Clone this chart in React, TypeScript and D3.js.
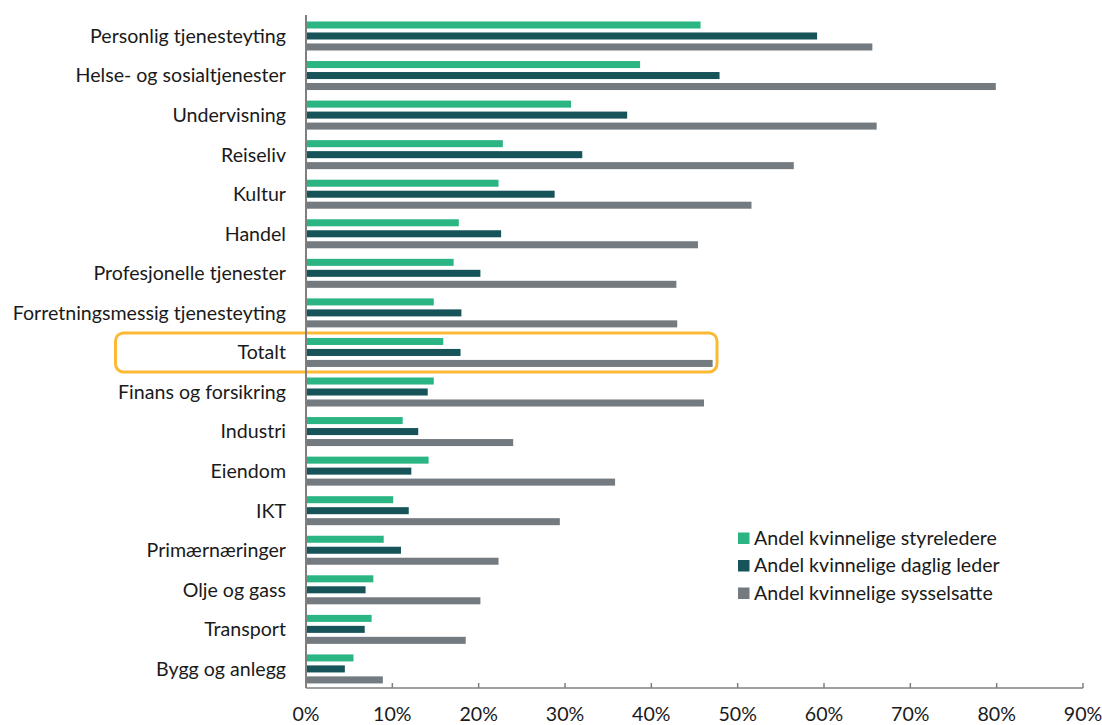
import React from "react";
import * as d3 from "d3";

const categories = [
  "Personlig tjenesteyting",
  "Helse- og sosialtjenester",
  "Undervisning",
  "Reiseliv",
  "Kultur",
  "Handel",
  "Profesjonelle tjenester",
  "Forretningsmessig tjenesteyting",
  "Totalt",
  "Finans og forsikring",
  "Industri",
  "Eiendom",
  "IKT",
  "Primærnæringer",
  "Olje og gass",
  "Transport",
  "Bygg og anlegg",
];

const seriesNames = [
  "Andel kvinnelige styreledere",
  "Andel kvinnelige daglig leder",
  "Andel kvinnelige sysselsatte",
];

const styreledere = [45.7, 38.7, 30.7, 22.8, 22.3, 17.7, 17.1, 14.8, 15.9, 14.8, 11.2, 14.2, 10.1, 9.0, 7.8, 7.6, 5.5];
const dagligLeder = [59.2, 47.9, 37.2, 32.0, 28.8, 22.6, 20.2, 18.0, 17.9, 14.1, 13.0, 12.2, 11.9, 11.0, 6.9, 6.8, 4.5];
const sysselsatte = [65.6, 79.9, 66.1, 56.5, 51.6, 45.4, 42.9, 43.0, 47.1, 46.1, 24.0, 35.8, 29.4, 22.3, 20.2, 18.5, 8.9];

const xTicks = [0, 10, 20, 30, 40, 50, 60, 70, 80, 90];
const highlighted = "Totalt";

const colors = ["#2bb583", "#16545a", "#737a80"];
const FONT = "Lato, 'Open Sans', sans-serif";
const FS = 19.6;

export default function App() {
  const W = 1102;
  const H = 725;
  const values = [styreledere, dagligLeder, sysselsatte];

  const x = d3.scaleLinear().domain([0, 90]).range([306, 1083]);
  const y = d3.scaleBand().domain(categories).range([16.2, 688.7]);
  const inner = d3
    .scaleBand()
    .domain(seriesNames)
    .range([-14.5, 14.5])
    .paddingInner(0.36);

  const axisY = 688;
  const axisTop = 15;
  const hl = y(highlighted)! + y.bandwidth() / 2;

  return (
    <svg
      width={W}
      height={H}
      style={{ position: "absolute", left: 0, top: 0, background: "#fff" }}
      fontFamily={FONT}
    >
      {/* bars */}
      {categories.map((c, i) => {
        const cy = y(c)! + y.bandwidth() / 2;
        return (
          <g key={c}>
            {seriesNames.map((s, j) => (
              <rect
                key={s}
                x={x(0) + 1}
                y={cy + inner(s)!}
                width={x(values[j][i]) - x(0) - 1}
                height={inner.bandwidth()}
                fill={colors[j]}
              />
            ))}
            <text
              x={286}
              y={cy}
              dy="0.35em"
              textAnchor="end"
              fontSize={FS}
              fill="#1a1a1a"
            >
              {c}
            </text>
          </g>
        );
      })}

      {/* highlight frame around the total */}
      <rect
        x={115.5}
        y={hl - 19.5}
        width={601.5}
        height={39}
        rx={8}
        ry={8}
        fill="none"
        stroke="#fbb934"
        strokeWidth={3}
      />

      {/* axes */}
      <line x1={x(0)} x2={x(0)} y1={axisTop} y2={axisY} stroke="#7f7f7f" strokeWidth={2} />
      <line x1={x(0)} x2={x(90)} y1={axisY} y2={axisY} stroke="#7f7f7f" strokeWidth={1.5} />
      {xTicks.map((t) => (
        <g key={t}>
          <line x1={x(t)} x2={x(t)} y1={axisY - 5} y2={axisY} stroke="#7f7f7f" strokeWidth={1.5} />
          <text x={x(t)} y={721} textAnchor="middle" fontSize={FS} fill="#1a1a1a">
            {t}%
          </text>
        </g>
      ))}

      {/* legend */}
      {seriesNames.map((s, j) => (
        <g key={s} transform={`translate(738, ${538 + j * 27.5})`}>
          <rect x={0} y={-5.5} width={11.5} height={11.5} fill={colors[j]} />
          <text x={16} y={0} dy="0.35em" fontSize={FS} fill="#1a1a1a">
            {s}
          </text>
        </g>
      ))}
    </svg>
  );
}
